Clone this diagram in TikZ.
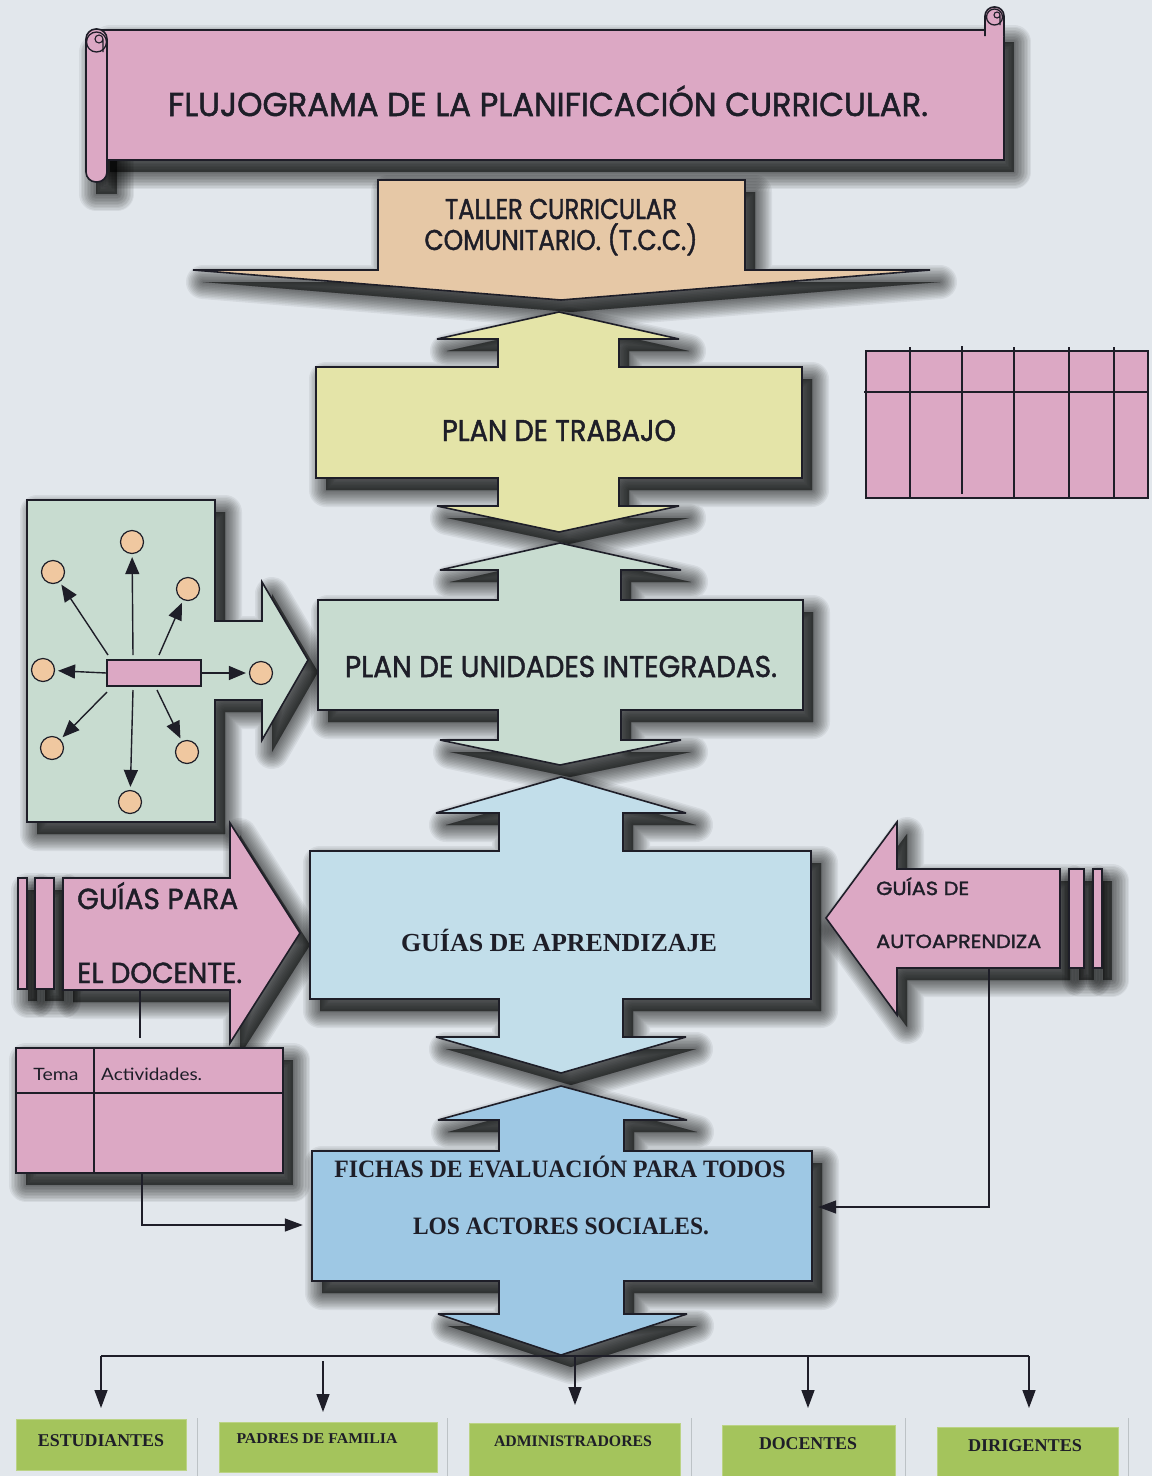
\documentclass[tikz,border=0pt]{standalone}
\usepackage{fontspec}
\usepackage{graphicx}
\setmainfont{Liberation Serif}
\newfontfamily\geofont[FakeBold=1.6]{Poppins}
\newfontfamily\humfont{Lato}
\usetikzlibrary{arrows.meta}

\definecolor{bg}{RGB}{226,231,236}
\definecolor{ink}{RGB}{30,30,40}
\definecolor{rosa}{RGB}{220,168,196}
\definecolor{tanc}{RGB}{230,200,166}
\definecolor{amar}{RGB}{228,228,168}
\definecolor{verdeg}{RGB}{200,220,208}
\definecolor{celeste}{RGB}{194,222,234}
\definecolor{azul}{RGB}{158,200,228}
\definecolor{circ}{RGB}{240,200,160}
\definecolor{verde}{RGB}{164,196,92}
\definecolor{sepc}{RGB}{188,194,198}

% stretch a line of text to a given width, keeping its height
\newcommand\fw[2]{\resizebox{#1pt}{\height}{#2}}
% soft drop shadow below and to the right of a closed path
\newcommand\castshadow[1]{%
  \begin{scope}[shift={(10,12)}]
    \foreach \w in {34,31,28,25,22,19,16,13,10,7,4,1}{\fill[black,opacity=0.058,draw=black,line width=\w pt,line join=round] #1;}
  \end{scope}}

% outlines of the big shapes
\def\pScroll{(100,30) -- (1004,30) -- (1004,160) -- (100,160) -- cycle}
\def\pTCC{(378,180) -- (745,180) -- (745,270) -- (930,270) -- (561,300) -- (193,270) -- (378,270) -- cycle}
\def\pPT{(559,312) -- (679,339) -- (619,339) -- (619,367) -- (802,367) -- (802,478) -- (619,478) -- (619,506) -- (679,506) -- (559,532) -- (437,506) -- (498,506) -- (498,478) -- (316,478) -- (316,367) -- (498,367) -- (498,339) -- (437,339) -- cycle}
\def\pPU{(560,543) -- (681,570) -- (621,570) -- (621,600) -- (803,600) -- (803,710) -- (621,710) -- (621,740) -- (681,740) -- (560,765) -- (440,740) -- (498,740) -- (498,710) -- (318,710) -- (318,600) -- (498,600) -- (498,570) -- (440,570) -- cycle}
\def\pGA{(561,777) -- (686,813) -- (623,813) -- (623,851) -- (811,851) -- (811,999) -- (623,999) -- (623,1037) -- (686,1037) -- (561,1073) -- (436,1037) -- (499,1037) -- (499,999) -- (310,999) -- (310,851) -- (499,851) -- (499,813) -- (436,813) -- cycle}
\def\pFE{(561,1086) -- (687,1120) -- (624,1120) -- (624,1151) -- (812,1151) -- (812,1281) -- (624,1281) -- (624,1314) -- (687,1314) -- (561,1355) -- (438,1314) -- (499,1314) -- (499,1281) -- (312,1281) -- (312,1151) -- (499,1151) -- (499,1120) -- (438,1120) -- cycle}
\def\pLeft{(27,500) -- (215,500) -- (215,621) -- (262,621) -- (262,582) -- (308,660) -- (262,740) -- (262,700) -- (215,700) -- (215,822) -- (27,822) -- cycle}
\def\pDoc{(63,878) -- (230,878) -- (230,823) -- (300,933) -- (230,1043) -- (230,990) -- (63,990) -- cycle}
\def\pAuto{(1060,869) -- (897,869) -- (897,822) -- (826,918) -- (897,1015) -- (897,968) -- (1060,968) -- cycle}

\begin{document}
\begin{tikzpicture}[x=1pt,y=-1pt,
  outl/.style={draw=ink,line width=1.6pt},
  tline/.style={draw=ink,line width=1.5pt},
  conn/.style={draw=ink,line width=1.4pt},
  arr/.style={conn,-{Triangle[length=18pt,width=13pt]}},
  smallarr/.style={draw=ink,line width=1.4pt,-{Triangle[length=17pt,width=14pt]},shorten >=3pt},
  lbl/.style={inner sep=0pt,anchor=base,text=ink},
  geo/.style={font=\geofont\fontsize{#1}{#1}\selectfont},
  ser/.style={font=\bfseries\fontsize{#1}{#1}\selectfont},
  dot/.style={circle,draw=ink,fill=circ,line width=1.2pt,minimum size=23pt,inner sep=0pt},
  gbox/.style={fill=verde,draw=verde!75!white,line width=0.8pt,inner sep=0pt,anchor=north west},
  sepline/.style={draw=sepc,line width=1pt}]

\useasboundingbox (0,0) rectangle (1152,1476);
\fill[bg] (0,0) rectangle (1152,1476);

% ---- grid on the right
\fill[rosa] (866,351) rectangle (1148,498);
\draw[tline] (866,351) rectangle (1148,498);
\draw[tline] (864,392) -- (1148,392);
\foreach \x in {910,1014,1069,1114} \draw[tline] (\x,347) -- (\x,498);
\draw[tline] (962,346) -- (962,494);

% ---- radial diagram feeding the unit plan
\castshadow{\pLeft}
\filldraw[outl,fill=verdeg] \pLeft;
\node[draw=ink,fill=rosa,line width=1.4pt,minimum width=94pt,minimum height=26pt,inner sep=0pt] (hub) at (154,673) {};
\node[dot] (o1) at (132,542) {};
\node[dot] (o2) at (53,572) {};
\node[dot] (o3) at (188,589) {};
\node[dot] (o4) at (43,670) {};
\node[dot] (o5) at (261,673) {};
\node[dot] (o6) at (52,748) {};
\node[dot] (o7) at (187,752) {};
\node[dot] (o8) at (130,802) {};
\coordinate (s1) at (133,655);
\coordinate (s2) at (108,655);
\coordinate (s3) at (159,655);
\coordinate (s6) at (107,692);
\coordinate (s7) at (157,690);
\coordinate (s8) at (133,690);
\draw[smallarr] (s1) -- (o1);
\draw[smallarr] (s2) -- (o2);
\draw[smallarr] (s3) -- (o3);
\draw[smallarr] (hub.west) -- (o4);
\draw[smallarr] (hub.east) -- (o5);
\draw[smallarr] (s6) -- (o6);
\draw[smallarr] (s7) -- (o7);
\draw[smallarr] (s8) -- (o8);

% ---- teacher guides
\castshadow{(18,878) rectangle (27,989)}
\castshadow{(35,878) rectangle (54,989)}
\castshadow{\pDoc}
\filldraw[outl,fill=rosa] (18,878) rectangle (27,989);
\filldraw[outl,fill=rosa] (35,878) rectangle (54,989);
\filldraw[outl,fill=rosa] \pDoc;
\node[lbl,geo=29,anchor=base west] (doc1) at (77,909) {\fw{161}{GUÍAS PARA}};
\node[lbl,geo=29,anchor=base west] (doc2) at (77,983) {\fw{165}{EL DOCENTE.}};

% ---- topic / activities table
\castshadow{(16,1048) rectangle (283,1173)}
\filldraw[outl,fill=rosa] (16,1048) rectangle (283,1173);
\draw[tline] (16,1093) -- (283,1093);
\draw[tline] (94,1048) -- (94,1173);
\node[lbl,font=\humfont\fontsize{17}{17}\selectfont] (tema) at (56,1080) {\fw{45}{Tema}};
\node[lbl,font=\humfont\fontsize{17}{17}\selectfont,anchor=base west] (activ) at (101,1080) {\fw{101}{Actividades.}};

% ---- title scroll
\castshadow{\pScroll}
\castshadow{(86,40) rectangle (107,182)}
\filldraw[outl,fill=rosa] \pScroll;
\filldraw[outl,fill=rosa,rounded corners=9pt] (985,36) -- (985,7) -- (1004,7) -- (1004,36);
\draw[outl,line width=1.3pt] (994.5,17) circle[radius=8pt];
\draw[outl,line width=1.1pt] (997,15) circle[radius=3pt] (1000,15) -- (1000,25);
\filldraw[outl,fill=rosa,rounded corners=10pt] (86,29) rectangle (107,182);
\draw[outl,line width=1.3pt] (96.5,42) circle[radius=10pt];
\draw[outl,line width=1.1pt] (99,39) circle[radius=4pt] (103,39) -- (103,52);
\node[lbl,geo=33] (title) at (548,116) {\fw{760}{FLUJOGRAMA DE LA PLANIFICACIÓN CURRICULAR.}};

% ---- community workshop
\castshadow{\pTCC}
\filldraw[outl,fill=tanc,miter limit=4] \pTCC;
\node[lbl,geo=28.6] (tcc1) at (561,219) {\fw{232}{TALLER CURRICULAR}};
\node[lbl,geo=28.6] (tcc2) at (561,250) {\fw{273}{COMUNITARIO. (T.C.C.)}};

% ---- work plan
\castshadow{\pPT}
\filldraw[outl,fill=amar,miter limit=4] \pPT;
\node[lbl,geo=30] (plantrab) at (559,441) {\fw{234}{PLAN DE TRABAJO}};

% ---- integrated units plan
\castshadow{\pPU}
\filldraw[outl,fill=verdeg,miter limit=4] \pPU;
\node[lbl,geo=30] (planuni) at (561,677) {\fw{432}{PLAN DE UNIDADES INTEGRADAS.}};

% ---- learning guides
\castshadow{\pGA}
\filldraw[outl,fill=celeste,miter limit=4] \pGA;
\node[lbl,ser=26] (guias) at (559,951) {\fw{316}{GUÍAS DE APRENDIZAJE}};

% ---- evaluation sheets
\castshadow{\pFE}
\filldraw[outl,fill=azul,miter limit=4] \pFE;
\node[inner sep=0pt,minimum width=500pt,minimum height=130pt] (fichas) at (562,1216) {};
\node[lbl,ser=25] (fich1) at (560,1177) {\fw{451}{FICHAS DE EVALUACIÓN PARA TODOS}};
\node[lbl,ser=25] (fich2) at (561,1234) {\fw{296}{LOS ACTORES SOCIALES.}};

% ---- self-learning guides
\castshadow{\pAuto}
\castshadow{(1069,869) rectangle (1084,968)}
\castshadow{(1093,869) rectangle (1102,968)}
\filldraw[outl,fill=rosa,miter limit=4] \pAuto;
\filldraw[outl,fill=rosa] (1069,869) rectangle (1084,968);
\filldraw[outl,fill=rosa] (1093,869) rectangle (1102,968);
\node[lbl,geo=19,anchor=base west] (auto1) at (876,895) {\fw{93}{GUÍAS DE}};
\node[lbl,geo=19,anchor=base west] (auto2) at (876,948) {\fw{165}{AUTOAPRENDIZA}};

% ---- connectors around the evaluation sheets
\coordinate (docB) at (140,990);
\coordinate (docE) at (140,1038);
\draw[conn] (docB) -- (docE);
\coordinate (temaB) at (142,1173);
\draw[arr,shorten >=9pt] (temaB) |- ([yshift=-9pt]fichas.west);
\coordinate (autoB) at (989,968);
\draw[arr,shorten >=6pt] (autoB) |- ([yshift=9pt]fichas.east);

% ---- distribution to the social actors
\node[gbox,minimum width=170pt,minimum height=51pt] (b1) at (16,1419) {};
\node[gbox,minimum width=218pt,minimum height=50pt] (b2) at (219,1422) {};
\node[gbox,minimum width=211pt,minimum height=60pt] (b3) at (469,1423) {};
\node[gbox,minimum width=173pt,minimum height=60pt] (b4) at (722,1425) {};
\node[gbox,minimum width=181pt,minimum height=60pt] (b5) at (937,1427) {};
\foreach \x in {197,447,691,905,1128} \draw[sepline] (\x,1418) -- (\x,1476);
\node[lbl,ser=18] (t1) at (101,1446) {\fw{126}{ESTUDIANTES}};
\node[lbl,ser=15] (t2) at (317,1443) {\fw{161}{PADRES DE FAMILIA}};
\node[lbl,ser=16] (t3) at (573,1446) {\fw{158}{ADMINISTRADORES}};
\node[lbl,ser=18] (t4) at (808,1449) {\fw{98}{DOCENTES}};
\node[lbl,ser=18] (t5) at (1025,1451) {\fw{114}{DIRIGENTES}};

\coordinate (busL) at (101,1356);
\coordinate (busR) at (1029,1356);
\coordinate (d2) at (323,1361);
\coordinate (d3) at (575,1356);
\coordinate (d4) at (808,1356);
\draw[conn] (busL) -- (busR);
\draw[arr,shorten >=11pt] (busL) -- (busL |- b1.north);
\draw[arr,shorten >=10pt] (d2) -- (d2 |- b2.north);
\draw[arr,shorten >=18pt] (d3) -- (d3 |- b3.north);
\draw[arr,shorten >=17pt] (d4) -- (d4 |- b4.north);
\draw[arr,shorten >=19pt] (busR) -- (busR |- b5.north);
\end{tikzpicture}
\end{document}
